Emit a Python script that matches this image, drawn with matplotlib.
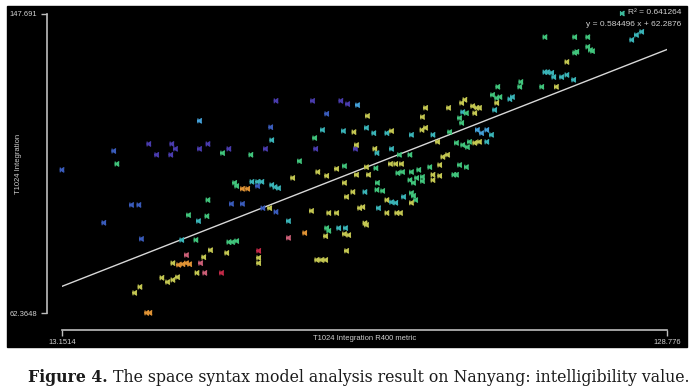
import matplotlib
matplotlib.use("Agg")
import matplotlib.pyplot as plt
from matplotlib.colors import LinearSegmentedColormap
from matplotlib.patches import Rectangle
from matplotlib.path import Path

# T1024 Integration R400 metric (x), T1024 Integration (y), colour value per segment
r400 = [
    13.2, 23.1, 23.7, 29.8, 31.3, 34.2, 34.9, 34.0, 39.5, 41.1, 45.1, 43.9, 39.5, 26.5, 27.9,
    21.2, 28.4, 41.1, 37.4, 39.3, 40.9, 45.6, 46.2, 46.6, 36.1, 38.8, 45.1, 45.8, 46.6, 41.6,
    44.7, 37.0, 40.3, 34.4, 35.5, 36.3, 37.0, 37.6, 39.7, 39.0, 40.5, 43.7, 32.3, 33.4, 34.4,
    35.3, 28.1, 27.1, 29.4, 30.0, 49.5, 50.6, 51.4, 50.6, 47.7, 48.7, 53.3, 53.9, 54.6, 57.3,
    62.1, 63.8, 47.7, 51.6, 52.9, 54.1, 56.5, 60.9, 64.2, 65.7, 56.5, 59.6, 63.8, 64.2, 63.6,
    66.1, 67.4, 67.2, 68.0, 67.6, 50.8, 50.8, 50.8, 61.9, 62.8, 63.6, 67.6, 68.8, 71.1, 70.1,
    70.7, 71.1, 71.4, 73.4, 74.5, 73.5, 75.3, 76.2, 77.0, 73.7, 75.3, 77.2, 77.9, 78.5, 80.0,
    80.4, 80.8, 80.0, 77.4, 78.3, 79.7, 80.4, 82.1, 84.1, 85.4, 88.1, 54.1, 61.1, 66.5, 67.8,
    69.7, 63.8, 71.6, 53.1, 63.0, 67.0, 69.0, 71.4, 72.8, 75.3, 76.2, 53.3, 52.1, 61.7, 69.3,
    69.5, 49.3, 61.5, 58.6, 67.2, 73.0, 73.4, 76.2, 77.7, 79.7, 65.7, 69.5, 71.4, 71.8, 73.2,
    76.0, 77.0, 78.1, 80.0, 81.4, 83.5, 85.4, 86.0, 86.9, 85.0, 87.3, 82.0, 82.7, 80.0, 84.1,
    82.7, 82.1, 87.1, 89.6, 90.2, 89.8, 90.5, 89.2, 89.6, 88.6, 89.8, 90.7, 89.2, 90.5, 88.6,
    84.1, 82.1, 81.0, 105.5, 111.2, 113.7, 111.2, 111.6, 113.7, 114.2, 114.6, 109.7, 122.1, 123.0,
    124.0, 105.5, 106.0, 106.8, 107.2, 108.7, 109.7, 111.0, 104.9, 107.7, 100.9, 100.7, 96.5, 95.5,
    96.3, 96.9, 98.8, 99.3, 96.3, 91.7, 92.5, 93.0, 92.1, 95.9, 92.6, 93.4, 94.4, 95.3, 93.0,
    92.1, 91.1, 94.4, 67.2,
]
integration = [
    103.2, 108.6, 104.9, 110.6, 107.5, 110.6, 109.2, 107.5, 109.2, 110.6, 109.2, 108.0, 117.2, 93.2, 93.2,
    88.1, 83.5, 94.6, 90.3, 88.6, 90.0, 93.5, 99.5, 98.6, 83.2, 83.2, 82.6, 82.6, 82.9, 80.3,
    79.5, 78.9, 78.3, 76.6, 76.1, 76.3, 76.6, 76.3, 76.6, 73.8, 73.8, 73.8, 72.4, 71.2, 71.8,
    72.6, 69.8, 68.1, 62.4, 62.4, 99.8, 99.8, 99.8, 98.6, 97.8, 97.8, 98.9, 98.3, 98.0, 100.9,
    102.6, 101.5, 93.5, 92.3, 92.3, 91.2, 88.6, 91.5, 90.9, 90.9, 83.8, 85.2, 86.6, 85.8, 84.3,
    86.6, 86.6, 84.9, 84.6, 80.1, 80.1, 78.1, 76.6, 77.5, 77.5, 77.5, 95.5, 96.9, 96.9, 92.3,
    92.6, 88.0, 87.5, 97.5, 97.2, 99.5, 94.6, 94.0, 93.8, 92.3, 90.9, 90.9, 90.9, 95.5, 96.6,
    95.8, 94.6, 93.8, 102.3, 102.6, 100.3, 99.5, 101.2, 101.8, 101.5, 101.8, 122.9, 122.9, 122.9, 122.0,
    121.7, 119.2, 118.6, 115.4, 114.6, 114.3, 114.0, 115.2, 113.7, 113.7, 114.3, 111.7, 109.2, 109.2, 109.2,
    110.3, 107.5, 112.3, 105.7, 104.3, 109.2, 108.0, 109.2, 107.5, 107.5, 103.5, 101.8, 104.0, 101.8, 103.7,
    104.9, 104.9, 104.9, 102.6, 103.2, 104.0, 104.6, 106.9, 107.5, 111.2, 114.0, 114.6, 115.2, 113.2, 113.2,
    120.9, 118.3, 120.9, 122.3, 123.2, 119.7, 119.4, 118.0, 116.6, 110.9, 110.3, 109.7, 104.6, 104.0, 101.8,
    100.3, 100.0, 100.9, 141.1, 141.1, 141.1, 136.6, 136.9, 138.3, 137.4, 137.1, 134.0, 140.3, 141.7,
    142.6, 131.1, 131.1, 130.9, 129.7, 129.7, 130.3, 128.9, 126.9, 126.9, 128.3, 126.9, 126.9, 124.6,
    123.7, 124.0, 123.4, 124.0, 122.3, 121.4, 120.9, 120.9, 119.4, 120.3, 114.6, 113.7, 114.6, 113.2, 111.2,
    110.9, 111.2, 111.2, 99.5,
]
shade = [
    0.15, 0.15, 0.50, 0.00, 0.00, 0.00, 0.00, 0.00, 0.00, 0.00, 0.00, 0.50, 0.25, 0.15, 0.15,
    0.15, 0.15, 0.50, 0.50, 0.35, 0.50, 0.15, 0.50, 0.50, 0.35, 0.50, 0.50, 0.50, 0.50, 0.70,
    0.70, 0.92, 0.70, 0.70, 0.85, 0.85, 0.85, 0.85, 0.92, 0.70, 0.92, 1.00, 0.70, 0.70, 0.70,
    0.70, 0.70, 0.70, 0.85, 0.85, 0.35, 0.35, 0.35, 0.15, 0.85, 0.85, 0.35, 0.35, 0.35, 0.70,
    0.70, 0.70, 0.15, 0.15, 0.70, 0.15, 0.35, 0.70, 0.70, 0.70, 0.92, 0.85, 0.50, 0.50, 0.70,
    0.35, 0.35, 0.70, 0.70, 0.70, 1.00, 0.70, 0.70, 0.70, 0.70, 0.70, 0.70, 0.70, 0.35, 0.70,
    0.70, 0.70, 0.70, 0.50, 0.50, 0.50, 0.70, 0.35, 0.35, 0.35, 0.70, 0.70, 0.70, 0.35, 0.50,
    0.50, 0.50, 0.70, 0.50, 0.50, 0.50, 0.50, 0.50, 0.70, 0.70, 0.50, 0.00, 0.00, 0.00, 0.00,
    0.25, 0.15, 0.70, 0.15, 0.35, 0.35, 0.70, 0.35, 0.35, 0.35, 0.70, 0.35, 0.00, 0.00, 0.00,
    0.70, 0.50, 0.50, 0.50, 0.50, 0.70, 0.35, 0.35, 0.50, 0.50, 0.70, 0.70, 0.70, 0.70, 0.50,
    0.70, 0.70, 0.70, 0.50, 0.50, 0.50, 0.70, 0.70, 0.70, 0.70, 0.50, 0.70, 0.70, 0.35, 0.35,
    0.70, 0.70, 0.70, 0.70, 0.70, 0.35, 0.50, 0.50, 0.50, 0.50, 0.50, 0.50, 0.50, 0.50, 0.50,
    0.70, 0.50, 0.50, 0.50, 0.50, 0.50, 0.50, 0.50, 0.50, 0.50, 0.50, 0.70, 0.35, 0.35,
    0.35, 0.35, 0.35, 0.35, 0.35, 0.35, 0.35, 0.35, 0.50, 0.70, 0.50, 0.50, 0.50, 0.50,
    0.50, 0.50, 0.35, 0.35, 0.70, 0.70, 0.70, 0.70, 0.70, 0.35, 0.25, 0.25, 0.25, 0.35, 0.70,
    0.70, 0.50, 0.35, 0.70,
]

X_MIN, X_MAX = 13.1514, 128.776
Y_MIN, Y_MAX = 62.3648, 147.691
SLOPE, INTERCEPT = 0.584496, 62.2876
R2 = 0.641264

cmap = LinearSegmentedColormap.from_list("depthmap", [
    (0.00, "#4a3cae"), (0.15, "#3a5cbc"), (0.25, "#44a0d8"), (0.35, "#3ab4b8"),
    (0.50, "#40c47c"), (0.70, "#c4c852"), (0.85, "#e09434"), (0.92, "#cc6078"),
    (1.00, "#c42a48"),
])

# small "K"-like glyph that Depthmap draws for each point
kmark = Path([(-0.45, 0.55), (-0.45, -0.55), (0.45, 0.55), (-0.45, 0.0), (0.45, -0.55)],
             [Path.MOVETO, Path.LINETO, Path.MOVETO, Path.LINETO, Path.LINETO])

W, H = 699, 389
fig = plt.figure(figsize=(W / 100, H / 100), dpi=100, facecolor="white")
fig.patches.append(Rectangle((7 / W, 1 - 347 / H), 680 / W, 341 / H,
                             transform=fig.transFigure, color="black", zorder=-10))

ax = fig.add_axes([62 / W, 1 - 313 / H, 605 / W, 299 / H], facecolor="black")
ax.set_xlim(X_MIN, X_MAX)
ax.set_ylim(Y_MIN, Y_MAX)

ax.scatter(r400, integration, c=shade, cmap=cmap, vmin=0, vmax=1, marker=kmark,
           s=12, linewidths=0.9, clip_on=False, zorder=3)
ax.plot([X_MIN, X_MAX], [SLOPE * X_MIN + INTERCEPT, SLOPE * X_MAX + INTERCEPT],
        color="#d8d8d8", linewidth=1.0, zorder=2)

axis_col = "#bdbdbd"
text_col = "#d0d0d0"
for side in ("top", "right"):
    ax.spines[side].set_visible(False)
ax.spines["left"].set_position(("outward", 11))
ax.spines["bottom"].set_position(("outward", 12))
ax.spines["left"].set_bounds(Y_MIN, Y_MAX)
ax.spines["bottom"].set_bounds(X_MIN, X_MAX)
for side in ("left", "bottom"):
    ax.spines[side].set_color(axis_col)
    ax.spines[side].set_linewidth(1.2)

ax.set_xticks([X_MIN, X_MAX], ["13.1514", "128.776"])
ax.set_yticks([Y_MIN, Y_MAX], ["62.3648", "147.691"])
ax.tick_params(colors=axis_col, labelcolor=text_col, length=4, width=1.0,
               labelsize=5.5, pad=3)
for lab in ax.get_xticklabels() + ax.get_yticklabels():
    lab.set_family("Liberation Sans")

fig.text(364.5 / W, 1 - 339 / H, "T1024 Integration R400 metric", ha="center", va="center",
         color=text_col, fontsize=5.5, family="Liberation Sans")
fig.text(19 / W, 1 - 163.5 / H, "T1024 Integration", ha="center", va="center", rotation=90,
         color=text_col, fontsize=5.5, family="Liberation Sans")

# legend in the top-right corner
ax.scatter([622 / W], [1 - 12.5 / H], marker=kmark, s=12, linewidths=0.9,
           color=cmap(0.42), transform=fig.transFigure, clip_on=False)
fig.text(681 / W, 1 - 12.5 / H, f"R\u00b2 = {R2}", ha="right", va="center",
         color=text_col, fontsize=6, family="Liberation Sans")
fig.text(681 / W, 1 - 24 / H, f"y = {SLOPE} x + {INTERCEPT}", ha="right", va="center",
         color=text_col, fontsize=6, family="Liberation Sans")

# caption
t1 = fig.text(28 / W, 1 - 382 / H, "Figure 4.", ha="left", va="baseline", fontsize=11.3,
              weight="bold", family="DejaVu Serif", color="#1a1a1a")
ax.annotate(" The space syntax model analysis result on Nanyang: intelligibility value.",
            xy=(1, 0), xycoords=t1, ha="left", va="bottom", fontsize=11.3,
            family="DejaVu Serif", color="#1a1a1a", annotation_clip=False)

fig.savefig("out.png", dpi=100, facecolor="white")
